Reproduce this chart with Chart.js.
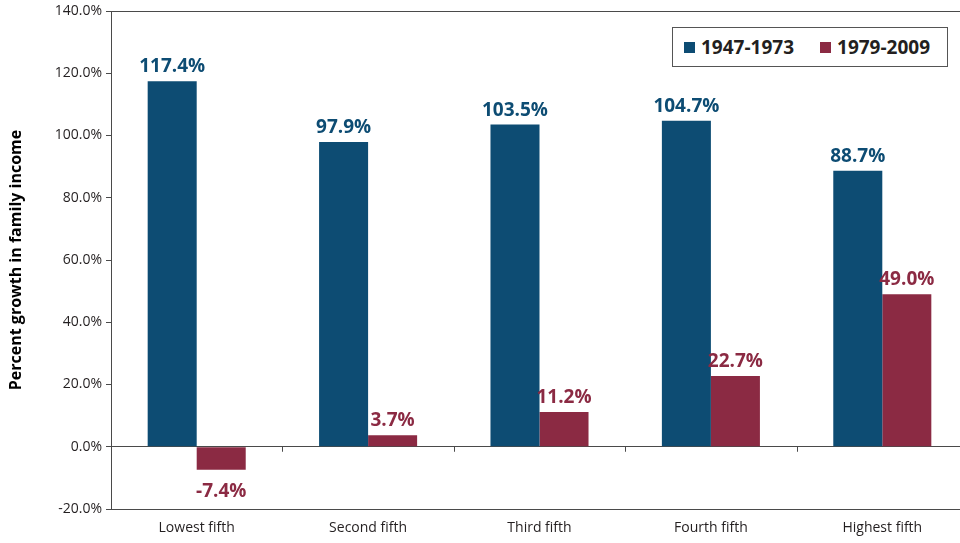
<!DOCTYPE html>
<html>
<head>
<meta charset="utf-8">
<script src="https://cdn.jsdelivr.net/npm/chart.js@4.4.1/dist/chart.umd.min.js"></script>
<style>
  html, body { margin: 0; padding: 0; background: #fff; overflow: hidden; }
  #wrap { position: relative; width: 960px; height: 543px; overflow: hidden; }
  #box { position: absolute; left: 0; top: 0; width: 968px; height: 543px; }
  #legend {
    position: absolute; left: 672px; top: 27px; width: 274px; height: 38px;
    border: 1px solid #555; background: #fff; box-sizing: content-box;
    font: bold 19px "Open Sans", sans-serif; color: #231f20;
    display: flex; align-items: center;
  }
  #legend span.sw { display: inline-block; width: 11px; height: 11px; margin-right: 6px; }
  #legend .item { display: flex; align-items: center; }
</style>
</head>
<body>
<div id="wrap">
  <div id="box"><canvas id="incomeChart"></canvas></div>
  <div id="legend"></div>
</div>
<script>
/* ---- data ---- */
const categories = ['Lowest fifth', 'Second fifth', 'Third fifth', 'Fourth fifth', 'Highest fifth'];
const seriesNames = ['1947-1973', '1979-2009'];
const growth1947 = [117.4, 97.9, 103.5, 104.7, 88.7];
const growth1979 = [-7.4, 3.7, 11.2, 22.7, 49.0];
const yTicks = [-20, 0, 20, 40, 60, 80, 100, 120, 140];

const BLUE = '#0d4c73';
const RED = '#8b2a43';
const AXIS = '#4a4a4a';
const FONT = '"Open Sans", sans-serif';

// legend (html, real text)
const legendEl = document.getElementById('legend');
[[seriesNames[0], BLUE, 11], [seriesNames[1], RED, 26]].forEach(([name, col, ml]) => {
  const it = document.createElement('div');
  it.className = 'item';
  it.style.marginLeft = ml + 'px';
  it.innerHTML = '<span class="sw" style="background:' + col + '"></span>' + name;
  legendEl.appendChild(it);
});

// value labels + small category ticks on the zero line
const barLabels = {
  id: 'barLabels',
  afterDatasetsDraw(chart) {
    const { ctx, scales } = chart;
    const x = scales.x, y = scales.y;
    const y0 = y.getPixelForValue(0);

    ctx.save();
    ctx.strokeStyle = AXIS;
    ctx.lineWidth = 1;
    for (let i = 1; i < categories.length + 1; i++) {
      const px = Math.round((x.getPixelForValue(i - 1) + x.getPixelForValue(i)) / 2) + 0.5;
      ctx.beginPath();
      ctx.moveTo(px, y0);
      ctx.lineTo(px, y0 + 5);
      ctx.stroke();
    }

    ctx.font = 'bold 19px ' + FONT;
    ctx.textAlign = 'center';
    chart.data.datasets.forEach((ds, di) => {
      const meta = chart.getDatasetMeta(di);
      ctx.fillStyle = ds.backgroundColor;
      meta.data.forEach((bar, i) => {
        const v = ds.data[i];
        const txt = v.toFixed(1) + '%';
        if (v >= 0) {
          ctx.textBaseline = 'alphabetic';
          ctx.fillText(txt, bar.x, bar.y - 9);
        } else {
          ctx.textBaseline = 'middle';
          ctx.fillText(txt, bar.x, bar.y + 22);
        }
      });
    });
    ctx.restore();
  }
};

new Chart(document.getElementById('incomeChart'), {
  type: 'bar',
  data: {
    labels: categories,
    datasets: [
      { label: seriesNames[0], data: growth1947, backgroundColor: BLUE, categoryPercentage: 0.572, barPercentage: 1 },
      { label: seriesNames[1], data: growth1979, backgroundColor: RED, categoryPercentage: 0.572, barPercentage: 1 }
    ]
  },
  options: {
    responsive: true,
    maintainAspectRatio: false,
    animation: false,
    layout: { padding: { top: 10, right: 0, bottom: 0, left: 0 } },
    plugins: {
      legend: { display: false },
      tooltip: { enabled: false }
    },
    scales: {
      x: {
        grid: { display: false, drawTicks: false },
        border: { display: false },
        ticks: { color: '#231f20', font: { family: FONT, size: 14 }, padding: 11 },
        afterFit: s => { s.height = 34; }
      },
      y: {
        min: -20,
        max: 140,
        afterBuildTicks: s => { s.ticks = yTicks.map(v => ({ value: v })); },
        grid: {
          color: c => (c.tick && [140, 0, -20].includes(c.tick.value)) ? AXIS : 'rgba(0,0,0,0)',
          tickColor: AXIS,
          tickLength: 5,
          lineWidth: 1
        },
        border: { display: true, color: AXIS, width: 1 },
        ticks: {
          color: '#231f20',
          font: { family: FONT, size: 14, lineHeight: 1 },
          padding: 4,
          callback: v => v.toFixed(1) + '%'
        },
        title: {
          display: true,
          text: 'Percent growth in family income',
          color: '#000',
          font: { family: FONT, size: 16, weight: 'bold' },
          padding: { top: 7, bottom: 0 }
        },
        afterFit: s => { s.width = 111; }
      }
    }
  },
  plugins: [barLabels]
});
</script>
</body>
</html>
